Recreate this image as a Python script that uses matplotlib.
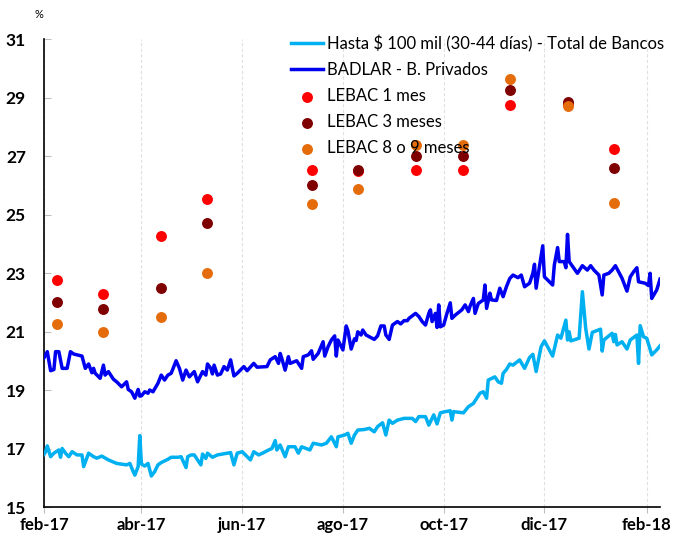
import matplotlib
matplotlib.use("Agg")
import matplotlib.pyplot as plt
import pandas as pd

plt.rcParams['font.family'] = ['Lato', 'DejaVu Sans']

# ---------------- data ----------------
badlar_dates = [
    "2017-02-01", "2017-02-02", "2017-02-03", "2017-02-05", "2017-02-07", "2017-02-08", "2017-02-10",
    "2017-02-12", "2017-02-15", "2017-02-17", "2017-02-19", "2017-02-24", "2017-02-26", "2017-02-28",
    "2017-03-02", "2017-03-03", "2017-03-04", "2017-03-07", "2017-03-09", "2017-03-10", "2017-03-12",
    "2017-03-15", "2017-03-17", "2017-03-20", "2017-03-23", "2017-03-24", "2017-03-26", "2017-03-28",
    "2017-03-30", "2017-03-31", "2017-04-01", "2017-04-03", "2017-04-05", "2017-04-06", "2017-04-08",
    "2017-04-11", "2017-04-13", "2017-04-15", "2017-04-17", "2017-04-19", "2017-04-22", "2017-04-24",
    "2017-04-26", "2017-04-28", "2017-04-30", "2017-05-03", "2017-05-05", "2017-05-08", "2017-05-10",
    "2017-05-11", "2017-05-13", "2017-05-14", "2017-05-15", "2017-05-17", "2017-05-19", "2017-05-21",
    "2017-05-23", "2017-05-25", "2017-05-27", "2017-05-29", "2017-06-02", "2017-06-04", "2017-06-08",
    "2017-06-10", "2017-06-16", "2017-06-18", "2017-06-21", "2017-06-23", "2017-06-24", "2017-06-25",
    "2017-06-27", "2017-06-29", "2017-06-30", "2017-07-04", "2017-07-07", "2017-07-08", "2017-07-11",
    "2017-07-13", "2017-07-14", "2017-07-17", "2017-07-20", "2017-07-21", "2017-07-23", "2017-07-25",
    "2017-07-27", "2017-07-28", "2017-07-29", "2017-08-01", "2017-08-03", "2017-08-04", "2017-08-06",
    "2017-08-08", "2017-08-09", "2017-08-10", "2017-08-12", "2017-08-13", "2017-08-15", "2017-08-20",
    "2017-08-22", "2017-08-24", "2017-08-26", "2017-08-27", "2017-08-29", "2017-08-31", "2017-09-03",
    "2017-09-05", "2017-09-07", "2017-09-09", "2017-09-10", "2017-09-14", "2017-09-16", "2017-09-18",
    "2017-09-20", "2017-09-22", "2017-09-23", "2017-09-24", "2017-09-26", "2017-09-27", "2017-09-28",
    "2017-09-29", "2017-10-01", "2017-10-03", "2017-10-05", "2017-10-06", "2017-10-08", "2017-10-12",
    "2017-10-14", "2017-10-16", "2017-10-17", "2017-10-19", "2017-10-20", "2017-10-22", "2017-10-25",
    "2017-10-26", "2017-10-27", "2017-10-29", "2017-10-30", "2017-11-02", "2017-11-04", "2017-11-06",
    "2017-11-08", "2017-11-10", "2017-11-12", "2017-11-15", "2017-11-17", "2017-11-19", "2017-11-22",
    "2017-11-24", "2017-11-25", "2017-11-26", "2017-11-28", "2017-11-30", "2017-12-01", "2017-12-03",
    "2017-12-06", "2017-12-07", "2017-12-09", "2017-12-10", "2017-12-13", "2017-12-14", "2017-12-15",
    "2017-12-16", "2017-12-21", "2017-12-24", "2017-12-27", "2017-12-29", "2017-12-31", "2018-01-03",
    "2018-01-05", "2018-01-06", "2018-01-09", "2018-01-11", "2018-01-13", "2018-01-17", "2018-01-20",
    "2018-01-22", "2018-01-24", "2018-01-26", "2018-01-27", "2018-01-31", "2018-02-02", "2018-02-03",
    "2018-02-04", "2018-02-07", "2018-02-09",
]
badlar_values = [
    20.10, 20.20, 20.31, 19.66, 19.70, 20.31, 20.31,
    19.74, 19.74, 20.31, 20.23, 20.16, 19.74, 19.89,
    19.59, 19.74, 19.57, 19.40, 19.85, 19.51, 19.63,
    19.37, 19.28, 19.11, 19.28, 19.02, 18.94, 18.72,
    19.02, 18.79, 18.80, 18.94, 18.89, 19.00, 18.94,
    19.23, 19.51, 19.34, 19.51, 19.57, 20.00, 19.74,
    19.34, 19.68, 19.45, 19.63, 19.28, 19.63, 19.51,
    19.89, 19.74, 19.55, 19.85, 19.51, 19.55, 19.80,
    19.68, 20.03, 19.48, 19.57, 19.80, 19.66, 19.91,
    19.78, 19.80, 20.03, 20.14, 19.91, 20.25, 20.08,
    19.68, 20.14, 19.91, 20.00, 19.74, 20.14, 20.20,
    20.34, 20.05, 20.25, 20.65, 20.16, 20.48, 20.71,
    20.85, 20.16, 20.71, 20.37, 21.19, 21.03, 20.40,
    20.75, 20.69, 20.99, 20.88, 21.05, 20.88, 20.73,
    20.85, 21.19, 21.19, 20.88, 20.73, 21.22, 21.34,
    21.26, 21.37, 21.37, 21.45, 21.62, 21.51, 21.34,
    21.22, 21.62, 21.74, 21.34, 21.62, 21.14, 21.91,
    21.16, 21.22, 21.62, 21.98, 21.45, 21.56, 21.74,
    21.91, 21.68, 21.87, 22.13, 21.62, 21.96, 22.08,
    22.59, 21.79, 22.31, 22.08, 22.06, 22.48, 22.19,
    22.53, 22.81, 22.93, 22.84, 22.93, 22.53, 22.65,
    22.99, 23.30, 22.48, 23.22, 23.93, 22.87, 22.76,
    22.59, 23.27, 23.87, 23.39, 23.39, 23.18, 24.32,
    23.39, 22.99, 23.25, 23.10, 23.25, 23.10, 22.93,
    22.25, 22.93, 22.99, 23.10, 23.25, 22.82, 22.38,
    22.87, 23.04, 23.18, 22.70, 22.65, 22.57, 22.99,
    22.13, 22.42, 22.79,
]

hasta_dates = [
    "2017-02-01", "2017-02-02", "2017-02-03", "2017-02-05", "2017-02-07", "2017-02-10", "2017-02-11",
    "2017-02-12", "2017-02-14", "2017-02-16", "2017-02-18", "2017-02-21", "2017-02-24", "2017-02-25",
    "2017-02-28", "2017-03-03", "2017-03-05", "2017-03-08", "2017-03-12", "2017-03-17", "2017-03-23",
    "2017-03-25", "2017-03-27", "2017-03-28", "2017-03-30", "2017-03-31", "2017-04-01", "2017-04-03",
    "2017-04-05", "2017-04-07", "2017-04-09", "2017-04-11", "2017-04-13", "2017-04-17", "2017-04-19",
    "2017-04-23", "2017-04-25", "2017-04-28", "2017-04-29", "2017-05-01", "2017-05-03", "2017-05-07",
    "2017-05-08", "2017-05-10", "2017-05-11", "2017-05-14", "2017-05-17", "2017-05-20", "2017-05-25",
    "2017-05-27", "2017-05-29", "2017-06-01", "2017-06-06", "2017-06-08", "2017-06-11", "2017-06-14",
    "2017-06-17", "2017-06-19", "2017-06-21", "2017-06-22", "2017-06-24", "2017-06-27", "2017-06-29",
    "2017-07-03", "2017-07-05", "2017-07-07", "2017-07-12", "2017-07-14", "2017-07-19", "2017-07-22",
    "2017-07-25", "2017-07-28", "2017-07-29", "2017-08-02", "2017-08-04", "2017-08-06", "2017-08-08",
    "2017-08-10", "2017-08-14", "2017-08-17", "2017-08-20", "2017-08-22", "2017-08-25", "2017-08-27",
    "2017-08-29", "2017-08-31", "2017-09-03", "2017-09-07", "2017-09-12", "2017-09-14", "2017-09-16",
    "2017-09-20", "2017-09-22", "2017-09-25", "2017-09-27", "2017-09-29", "2017-10-02", "2017-10-05",
    "2017-10-06", "2017-10-07", "2017-10-13", "2017-10-16", "2017-10-19", "2017-10-23", "2017-10-25",
    "2017-10-27", "2017-10-28", "2017-11-01", "2017-11-03", "2017-11-05", "2017-11-06", "2017-11-08",
    "2017-11-10", "2017-11-12", "2017-11-16", "2017-11-19", "2017-11-22", "2017-11-24", "2017-11-26",
    "2017-11-29", "2017-12-01", "2017-12-06", "2017-12-09", "2017-12-11", "2017-12-14", "2017-12-15",
    "2017-12-16", "2017-12-17", "2017-12-22", "2017-12-24", "2017-12-26", "2017-12-28", "2017-12-30",
    "2018-01-04", "2018-01-05", "2018-01-06", "2018-01-11", "2018-01-12", "2018-01-13", "2018-01-14",
    "2018-01-17", "2018-01-20", "2018-01-22", "2018-01-26", "2018-01-27", "2018-01-28", "2018-01-30",
    "2018-02-01", "2018-02-04", "2018-02-07", "2018-02-09",
]
hasta_values = [
    16.80, 16.89, 17.09, 16.72, 16.84, 16.95, 16.70,
    17.00, 16.84, 16.72, 16.89, 16.78, 16.78, 16.38,
    16.84, 16.72, 16.67, 16.74, 16.61, 16.49, 16.44,
    16.49, 16.21, 16.09, 16.38, 17.44, 16.47, 16.40,
    16.49, 16.06, 16.21, 16.44, 16.52, 16.63, 16.70,
    16.70, 16.72, 16.35, 16.72, 16.78, 16.78, 16.44,
    16.81, 16.66, 16.84, 16.70, 16.78, 16.81, 16.86,
    16.44, 16.84, 16.89, 16.61, 16.89, 16.78, 16.86,
    16.95, 17.00, 17.27, 16.95, 17.12, 16.72, 17.06,
    17.06, 16.84, 17.06, 16.95, 17.18, 17.12, 17.18,
    17.40, 17.06, 17.40, 17.46, 17.52, 17.18, 17.46,
    17.63, 17.65, 17.69, 17.57, 17.75, 17.88, 17.46,
    17.97, 17.86, 17.97, 18.03, 18.03, 17.92, 18.09,
    18.09, 17.80, 18.15, 17.84, 18.22, 18.26, 18.29,
    17.97, 18.26, 18.22, 18.43, 18.54, 18.89, 18.94,
    18.72, 19.34, 19.45, 19.28, 19.23, 19.57, 19.70,
    19.89, 19.85, 20.03, 19.74, 20.11, 20.22, 19.63,
    20.48, 20.68, 20.16, 20.88, 20.77, 21.39, 20.71,
    20.99, 20.68, 20.77, 22.36, 21.11, 20.40, 20.97,
    21.08, 20.33, 20.71, 20.94, 20.65, 20.90, 20.54,
    20.65, 20.40, 20.71, 20.88, 19.91, 21.20, 20.82,
    20.77, 20.20, 20.37, 20.51,
]

lebac_dates = ["2017-02-09", "2017-03-09", "2017-04-13", "2017-05-11", "2017-07-13", "2017-08-10",
               "2017-09-14", "2017-10-13", "2017-11-10", "2017-12-15", "2018-01-12"]
lebac_1m = [22.76, 22.27, 24.25, 25.52, 26.51, 26.50, 26.51, 26.51, 28.75, 28.78, 27.25]
lebac_3m = [22.01, 21.76, 22.50, 24.70, 26.01, 26.51, 27.01, 27.01, 29.26, 28.84, 26.60]
lebac_9m = [21.25, 21.00, 21.50, 23.01, 25.36, 25.86, 27.36, 27.36, 29.62, 28.71, 25.40]

tick_dates = ["2017-02-01", "2017-04-01", "2017-06-01", "2017-08-01", "2017-10-01", "2017-12-01", "2018-02-01"]
tick_labels = ["feb-17", "abr-17", "jun-17", "ago-17", "oct-17", "dic-17", "feb-18"]
y_ticks = [15, 17, 19, 21, 23, 25, 27, 29, 31]

labels = ["Hasta \\$ 100 mil (30-44 días) - Total de Bancos", "BADLAR - B. Privados",
          "LEBAC 1 mes", "LEBAC 3 meses", "LEBAC 8 o 9 meses"]

# ---------------- figure ----------------
fig = plt.figure(figsize=(6.75, 5.36), dpi=100)
ax = fig.add_axes([44 / 675, 1 - 507 / 536, (660 - 44) / 675, (507 - 39) / 536])

bd = pd.to_datetime(badlar_dates)
hd = pd.to_datetime(hasta_dates)
ld = pd.to_datetime(lebac_dates)
td = pd.to_datetime(tick_dates)

for t in td:
    ax.axvline(t, color="#e0e0e0", lw=0.8, ls=(0, (3, 2)), zorder=0)

l1, = ax.plot(hd, hasta_values, color="#00b0f0", lw=2.5, label=labels[0], zorder=3)
l2, = ax.plot(bd, badlar_values, color="#0000f0", lw=2.5, label=labels[1], zorder=3)
s1 = ax.scatter(ld, lebac_1m, s=62, color="#ff0000", label=labels[2], zorder=4, linewidths=0)
s2 = ax.scatter(ld, lebac_3m, s=62, color="#7f0000", label=labels[3], zorder=5, linewidths=0)
s3 = ax.scatter(ld, lebac_9m, s=62, color="#e46c0a", label=labels[4], zorder=6, linewidths=0)

ax.set_ylim(15, 31)
ax.set_xlim(pd.Timestamp("2017-02-01"), pd.Timestamp("2018-02-09"))
ax.set_yticks(y_ticks)
ax.set_yticklabels([str(v) for v in y_ticks], fontweight="bold", fontsize=12.5)
ax.set_xticks(td)
ax.set_xticklabels(tick_labels, fontweight="bold", fontsize=12)

for s in ["top", "right"]:
    ax.spines[s].set_visible(False)
for s in ["left", "bottom"]:
    ax.spines[s].set_color("black")
    ax.spines[s].set_linewidth(1.2)

ax.tick_params(axis="y", direction="in", length=5, color="#bfbfbf", pad=13)
ax.tick_params(axis="x", direction="out", length=4, color="#bfbfbf", pad=3)

fig.text(39 / 675, 1 - 14 / 536, "%", ha="center", va="center", fontsize=8)

leg = fig.legend(handles=[l1, l2, s1, s2, s3], labels=labels, loc="upper left",
                 bbox_to_anchor=(291 / 675, 1 - 35 / 536), frameon=False, fontsize=12,
                 handlelength=1.9, handletextpad=0.25, labelspacing=0.6, borderaxespad=0,
                 borderpad=0, scatterpoints=1)
leg.set_zorder(10)

fig.savefig("out.png", dpi=100)
